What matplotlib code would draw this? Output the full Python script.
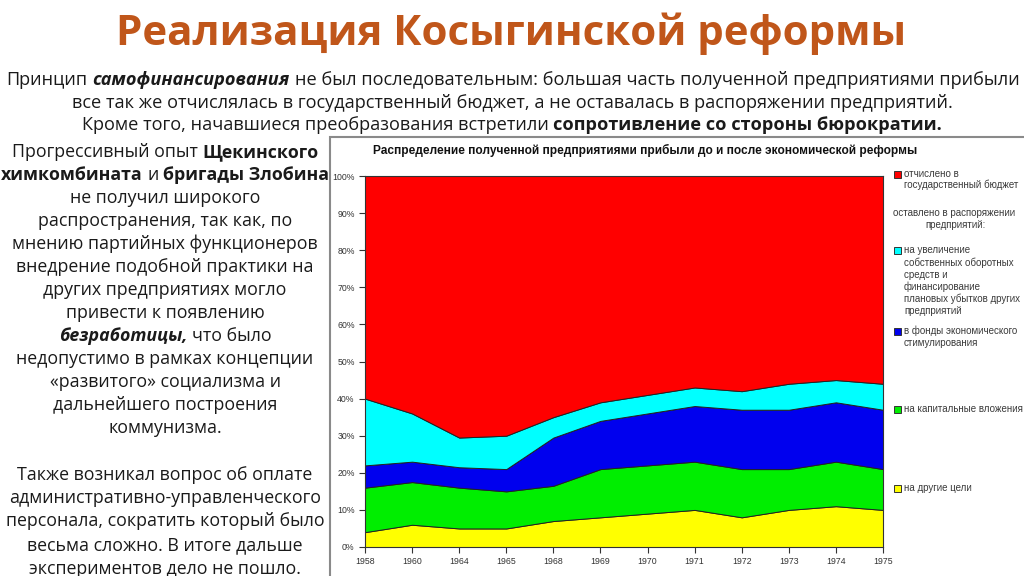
import matplotlib
matplotlib.use('Agg')
import matplotlib.pyplot as plt
from matplotlib import font_manager
from matplotlib.patches import Rectangle

# Data (shares of enterprise profit, %)
years = ['1958', '1960', '1964', '1965', '1968', '1969', '1970', '1971', '1972', '1973', '1974', '1975']
other = [4, 6, 5, 5, 7, 8, 9, 10, 8, 10, 11, 10]
capital = [12, 11.5, 11, 10, 9.5, 13, 13, 13, 13, 11, 12, 11]
incentive = [6, 5.5, 5.5, 6, 13, 13, 14, 15, 16, 16, 16, 16]
working = [18, 13, 8, 9, 5.5, 5, 5, 5, 5, 7, 6, 7]
budget = [60, 64, 70.5, 70, 65, 61, 59, 57, 58, 56, 55, 56]

colors = ['#FFFF00', '#00EE00', '#0000EE', '#00FFFF', '#FF0000']
yticks = list(range(0, 101, 10))

W, H = 1024, 576
installed = {f.name for f in font_manager.fontManager.ttflist}
SLIDE = 'Open Sans'
NARROW = 'Liberation Sans Narrow' if 'Liberation Sans Narrow' in installed else 'Open Sans'
CHART = 'Liberation Sans'
TXT = '#1a1a1a'

fig = plt.figure(figsize=(W / 100, H / 100), dpi=100)
fig.patch.set_facecolor('white')
renderer = fig.canvas.get_renderer()


def fy(y):
    return 1 - y / H


def width_of(s, size, family, weight='normal', style='normal'):
    t = fig.text(0, 0, s, fontsize=size, family=family, fontweight=weight, fontstyle=style)
    w = t.get_window_extent(renderer).width
    t.remove()
    return w


def fit_size(s, target, family, weight='normal'):
    size = 12
    w = width_of(s, size, family, weight)
    return size * target / w


def draw_runs(runs, xc, y, size, family, color=TXT):
    # runs: list of (text, weight, style); words joined with a space
    gap = width_of('x x', size, family) - width_of('xx', size, family)
    items = []
    for s, wgt, st in runs:
        t = fig.text(0, fy(y), s, fontsize=size, family=family, fontweight=wgt,
                     fontstyle=st, va='center', ha='left', color=color)
        items.append((t, t.get_window_extent(renderer).width))
    total = sum(w for _, w in items) + gap * (len(items) - 1)
    x = xc - total / 2
    for t, w in items:
        t.set_x(x / W)
        x += w + gap


# Title
t_size = fit_size('Реализация Косыгинской реформы', 788, SLIDE, 'bold')
fig.text(511 / W, fy(34), 'Реализация Косыгинской реформы', ha='center', va='center',
         fontsize=t_size, fontweight='bold', family=SLIDE, color='#C0561A')

# Top paragraph
N, B, BI = ('normal', 'normal'), ('bold', 'normal'), ('bold', 'italic')
p1 = [('Принцип', *N), ('самофинансирования', *BI),
      ('не был последовательным: большая часть полученной предприятиями прибыли', *N)]
p_size = fit_size('Принцип самофинансирования не был последовательным: большая часть '
                  'полученной предприятиями прибыли', 1008, NARROW)
draw_runs(p1, 513, 80, p_size, NARROW)
draw_runs([('все так же отчислялась в государственный бюджет, а не оставалась в распоряжении предприятий.', *N)],
          512, 103, p_size, NARROW)
draw_runs([('Кроме того, начавшиеся преобразования встретили', *N),
           ('сопротивление со стороны бюрократии.', *B)], 512, 125, p_size, NARROW)

# Left text block
left_lines = [
    [('Прогрессивный опыт', *N), ('Щекинского', *B)],
    [('химкомбината', *B), ('и', *N), ('бригады Злобина', *B)],
    [('не получил широкого', *N)],
    [('распространения, так как, по', *N)],
    [('мнению партийных функционеров', *N)],
    [('внедрение подобной практики на', *N)],
    [('других предприятиях могло', *N)],
    [('привести к появлению', *N)],
    [('безработицы,', *BI), ('что было', *N)],
    [('недопустимо в рамках концепции', *N)],
    [('«развитого» социализма и', *N)],
    [('дальнейшего построения', *N)],
    [('коммунизма.', *N)],
    None,
    [('Также возникал вопрос об оплате', *N)],
    [('административно-управленческого', *N)],
    [('персонала, сократить который было', *N)],
    [('весьма сложно. В итоге дальше', *N)],
    [('экспериментов дело не пошло.', *N)],
]
l_size = fit_size('мнению партийных функционеров', 304, SLIDE)
y = 152
for line in left_lines:
    if line is not None:
        draw_runs(line, 165, y, l_size, SLIDE)
    y += 23.5 if y > 440 else 23

# Chart panel frame
fig.add_artist(Rectangle((330 / W, fy(600)), 720 / W, 463 / H, transform=fig.transFigure,
                         facecolor='white', edgecolor='#8a8a8a', linewidth=1.5, zorder=0))
c_size = fit_size('Распределение полученной предприятиями прибыли до и после экономической реформы',
                  536, CHART, 'bold')
fig.text(645 / W, fy(150), 'Распределение полученной предприятиями прибыли до и после экономической реформы',
         ha='center', va='center', fontsize=c_size, fontweight='bold', family=CHART, color='#111')

ax = fig.add_axes([365 / W, fy(547), (883 - 365) / W, (547 - 176) / H])
x = list(range(len(years)))
ax.stackplot(x, other, capital, incentive, working, budget, colors=colors,
             edgecolor='#222222', linewidth=0.7)
ax.set_xlim(0, len(years) - 1)
ax.set_ylim(0, 100)
ax.set_xticks(x)
ax.set_xticklabels(years)
ax.set_yticks(yticks)
ax.set_yticklabels([f'{v}%' for v in yticks])
ax.tick_params(direction='out', length=4, width=0.8, labelsize=6.3, colors='#333333',
               labelfontfamily=CHART)
for sp in ax.spines.values():
    sp.set_color('#333333')
    sp.set_linewidth(0.8)

# Legend (drawn by hand, as in the original)
leg_size = 7
LC = '#3a3a3a'


def marker(y, color):
    fig.add_artist(Rectangle((894 / W, fy(y + 3.5)), 7 / W, 7 / H, transform=fig.transFigure,
                             facecolor=color, edgecolor='#333333', linewidth=0.7))


def leg_text(x, y, s, ha='left'):
    fig.text(x / W, fy(y), s, fontsize=leg_size, family=CHART, color=LC, ha=ha, va='center')


marker(174, colors[4])
leg_text(904, 174, 'отчислено в')
leg_text(904, 185, 'государственный бюджет')
leg_text(893, 213, 'оставлено в распоряжении')
leg_text(956, 225, 'предприятий:', ha='center')
marker(250, colors[3])
for i, s in enumerate(['на увеличение', 'собственных оборотных', 'средств и', 'финансирование',
                       'плановых убытков других', 'предприятий']):
    leg_text(904, 250 + 12.3 * i, s)
marker(331, colors[2])
leg_text(904, 331, 'в фонды экономического')
leg_text(904, 343, 'стимулирования')
marker(409, colors[1])
leg_text(904, 409, 'на капитальные вложения')
marker(488, colors[0])
leg_text(904, 488, 'на другие цели')

fig.savefig('out.png', dpi=100)
